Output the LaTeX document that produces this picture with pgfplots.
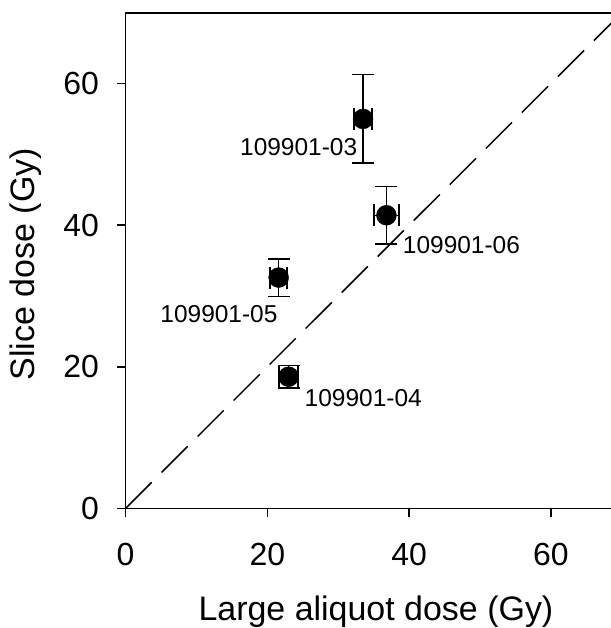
\documentclass[border=0pt]{standalone}
\usepackage{pgfplots}
\pgfplotsset{compat=1.18}
\usepackage{fontspec}
\setmainfont{Liberation Sans}
\begin{document}
\begin{tikzpicture}
\useasboundingbox (-125.7pt,-119.7pt) rectangle (485.3pt,509.2pt);
\begin{axis}[
  at={(0pt,0pt)}, anchor=south west,
  scale only axis,
  width=488pt, height=496.5pt,
  xmin=0, xmax=68.73, ymin=0, ymax=70,
  xtick={0,20,40,60}, ytick={0,20,40,60},
  tick pos=left,
  tick align=outside,
  minor tick num=0,
  major tick length=8.4pt,
  major tick style={draw=black, line width=1.5pt},
  axis line style={line width=1.8pt},
  /pgf/number format/assume math mode=true,
  ticklabel style={font=\fontsize{32}{38}\selectfont},
  xticklabel style={anchor=north, inner sep=0pt, yshift=-26pt},
  yticklabel style={anchor=east, inner sep=0pt, xshift=-18pt},
  xlabel={Large aliquot dose (Gy)},
  ylabel={Slice dose (Gy)},
  label style={font=\fontsize{34}{40}\selectfont},
  xlabel style={at={([xshift=250.8pt]axis description cs:0,0)}, anchor=base, yshift=-112pt},
  ylabel style={at={([xshift=-91pt]axis description cs:0,0.4926)}, anchor=base, rotate=0},
  clip=false,
]
\addplot[black, line width=1.5pt, dash pattern=on 37pt off 14pt, forget plot] coordinates {(0,0) (68.6,68.6)};
\addplot[black, only marks, mark=*, mark size=10pt,
  error bars/.cd, x dir=both, x explicit, y dir=both, y explicit,
  error mark=|,
  error bar style={line width=1.5pt, black},
  error mark options={line width=1.5pt, black, mark size=11pt}]
  coordinates {
  (33.5,55.0) +- (1.27,6.25)
  (36.8,41.4) +- (1.76,4.05)
  (21.6,32.6) +- (1.2,2.65)
  (23.0,18.6) +- (1.36,1.6)
  };
\node[anchor=east, inner sep=0pt, font=\fontsize{24.5}{28}\selectfont] at (axis cs:32.7,51.0) {109901-03};
\node[anchor=west, inner sep=0pt, font=\fontsize{24.5}{28}\selectfont] at (axis cs:39.1,37.2) {109901-06};
\node[anchor=west, inner sep=0pt, font=\fontsize{24.5}{28}\selectfont] at (axis cs:4.9,27.5) {109901-05};
\node[anchor=west, inner sep=0pt, font=\fontsize{24.5}{28}\selectfont] at (axis cs:25.25,15.6) {109901-04};
\end{axis}
\foreach \v in {0,20,40,60} {
  \draw[black, line width=1.5pt] (\v*7.1003pt,0pt) -- ++(0pt,-8.4pt);
  \draw[black, line width=1.5pt] (0pt,\v*7.0929pt) -- ++(-8.4pt,0pt);
}
\end{tikzpicture}
\end{document}
